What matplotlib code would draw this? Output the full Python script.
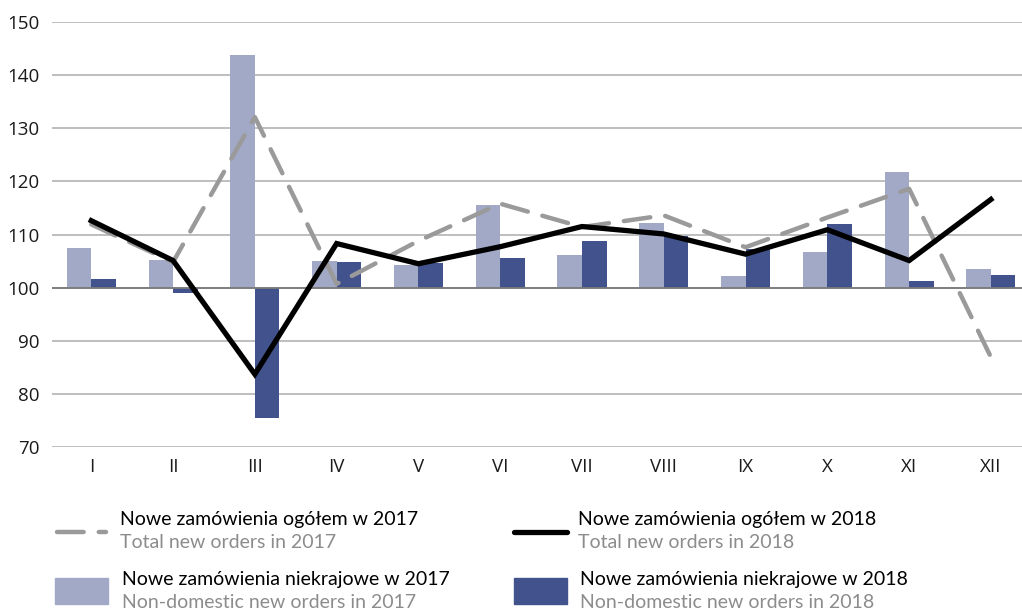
import numpy as np
import matplotlib
matplotlib.use("Agg")
import matplotlib.pyplot as plt
from matplotlib.patches import Rectangle
from matplotlib.lines import Line2D

months = ["I", "II", "III", "IV", "V", "VI", "VII", "VIII", "IX", "X", "XI", "XII"]
nondom_2017 = [107.5, 105.2, 143.8, 105.1, 104.3, 115.6, 106.2, 112.1, 102.1, 106.8, 121.8, 103.5]
nondom_2018 = [101.7, 98.9, 75.5, 104.9, 104.6, 105.6, 108.7, 109.7, 107.3, 111.9, 101.3, 102.4]
total_2017 = [111.9, 104.8, 132.1, 100.7, 108.8, 115.8, 111.4, 113.6, 107.6, 113.2, 118.6, 86.9]
total_2018 = [112.6, 105.1, 83.7, 108.3, 104.5, 107.7, 111.5, 110.1, 106.3, 110.9, 105.1, 116.6]
yticks = [70, 80, 90, 100, 110, 120, 130, 140, 150]

plt.rcParams["font.family"] = ["Open Sans", "DejaVu Sans"]
legend_font = ["Lato", "DejaVu Sans"]

c_light = "#a2a9c6"
c_dark = "#42528c"
c_grey = "#9a9a9a"

fig = plt.figure(figsize=(10.22, 6.12), dpi=100)
ax = fig.add_axes([52 / 1022, 1 - 447 / 612, 1 - 52 / 1022, (447 - 22) / 612])

x = np.arange(len(months))
w = 0.30
base = 100
ax.bar(x - w / 2, np.array(nondom_2017) - base, w, bottom=base, color=c_light, zorder=2)
ax.bar(x + w / 2, np.array(nondom_2018) - base, w, bottom=base, color=c_dark, zorder=2)
ax.axhline(base, color="#7a7a7a", lw=1.3, zorder=2.5)

ax.plot(x, total_2017, color=c_grey, lw=3.2, dashes=(6, 3.4),
        dash_capstyle="round", zorder=3)
ax.plot(x, total_2018, color="black", lw=3.8, solid_joinstyle="miter", zorder=4)

ax.set_ylim(70, 150)
ax.set_xlim(-0.48, 11.38)
ax.set_yticks(yticks)
ax.set_xticks(x)
ax.set_xticklabels(months)
ax.yaxis.grid(True, color="#b3b3b3", lw=1.2, zorder=0)
ax.set_axisbelow(True)
for s in ax.spines.values():
    s.set_visible(False)
ax.tick_params(length=0, labelsize=13.5, colors="#1a1a1a")
ax.tick_params(axis="y", pad=9)
ax.tick_params(axis="x", pad=8)

# legend drawn by hand in pixel coords
def fx(px):
    return px / 1022

def fy(py):
    return 1 - py / 612

fig.add_artist(Line2D([fx(57), fx(106)], [fy(532), fy(532)], color=c_grey, lw=3.2,
                      dashes=(6, 3.4), dash_capstyle="round"))
fig.add_artist(Line2D([fx(514), fx(567)], [fy(532), fy(532)], color="black", lw=3.8,
                      solid_capstyle="round"))
fig.add_artist(Rectangle((fx(55), fy(604)), fx(53), 26 / 612, color=c_light))
fig.add_artist(Rectangle((fx(514), fy(604)), fx(53), 26 / 612, color=c_dark))

legend_items = [
    (120, 520, "Nowe zamówienia ogółem w 2017", "Total new orders in 2017"),
    (578, 520, "Nowe zamówienia ogółem w 2018", "Total new orders in 2018"),
    (122, 579, "Nowe zamówienia niekrajowe w 2017", "Non-domestic new orders in 2017"),
    (580, 579, "Nowe zamówienia niekrajowe w 2018", "Non-domestic new orders in 2018"),
]
for px, py, pl, en in legend_items:
    fig.text(fx(px), fy(py), pl, fontsize=14, family=legend_font, color="black", va="center")
    fig.text(fx(px), fy(py + 23), en, fontsize=14, family=legend_font, color="#8c8c8c", va="center")

fig.savefig("out.png", dpi=100)
